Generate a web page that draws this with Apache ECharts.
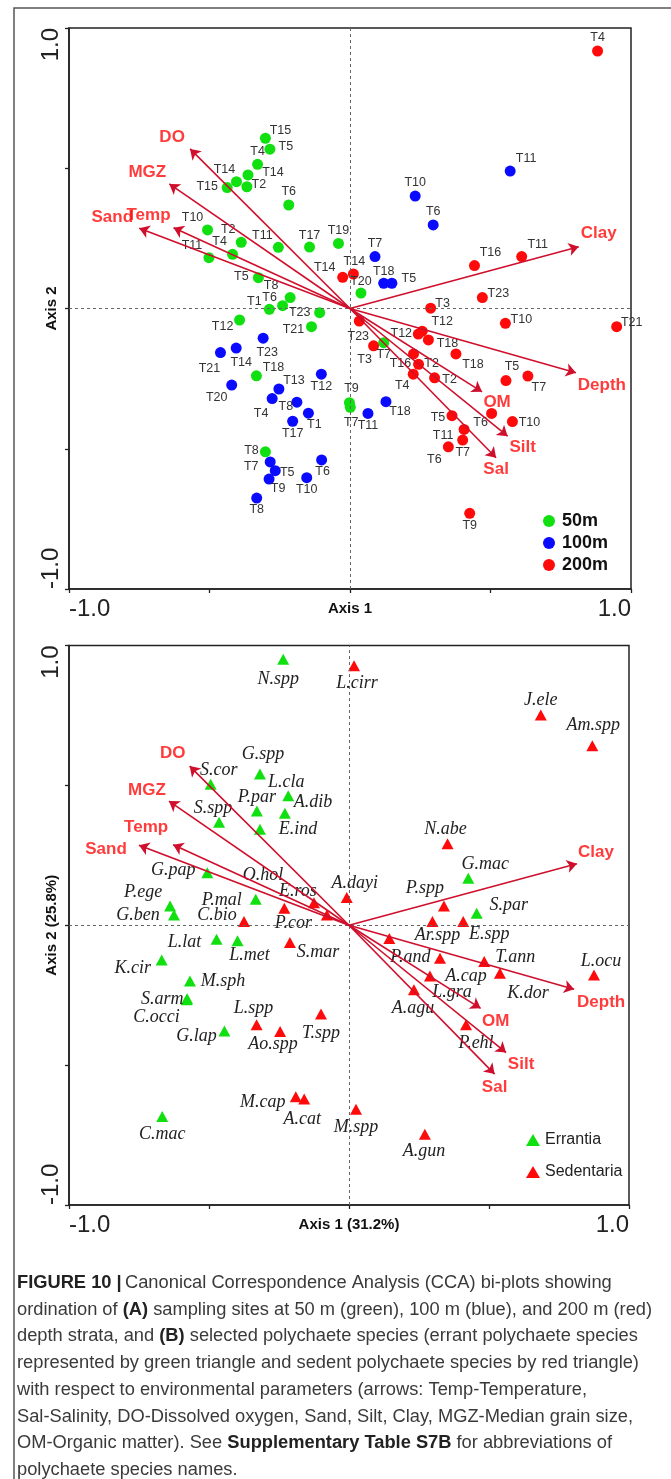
<!DOCTYPE html>
<html><head><meta charset="utf-8">
<script src="https://cdn.jsdelivr.net/npm/echarts@6/dist/echarts.min.js"></script>
<style>html,body{margin:0;padding:0;background:#fff}#c{width:671px;height:1479px}</style>
</head><body><div id="c"></div>
<script>
// ---------- data ----------
const tickLabels = ['-1.0', '1.0'];
const axisNamesA = ['Axis 1', 'Axis 2'];
const axisNamesB = ['Axis 1 (31.2%)', 'Axis 2 (25.8%)'];

const envNames = ['DO', 'MGZ', 'Temp', 'Sand', 'Clay', 'Depth', 'OM', 'Silt', 'Sal'];
const envX = [-0.569, -0.643, -0.628, -0.750, 0.814, 0.804, 0.470, 0.561, 0.520];
const envY = [0.569, 0.444, 0.288, 0.286, 0.220, -0.229, -0.297, -0.455, -0.532];

// (A) sampling sites
const s50Names = ['T15','T5','T4','T14','T14','T15','T2','T6','T10','T2','T4','T11','T11','T17','T19','T5','T8','T6','T1','T23','T21','T12','T20','T7','T18','T9','T7','T8'];
const s50X = [-0.301,-0.285,-0.329,-0.363,-0.404,-0.437,-0.367,-0.218,-0.507,-0.387,-0.418,-0.502,-0.255,-0.144,-0.041,-0.326,-0.213,-0.240,-0.287,-0.108,-0.137,-0.393,0.039,0.120,-0.333,-0.002,0.001,-0.301];
const s50Y = [0.607,0.568,0.514,0.476,0.452,0.431,0.434,0.369,0.280,0.236,0.193,0.181,0.218,0.219,0.232,0.110,0.039,0.010,-0.003,-0.015,-0.065,-0.041,0.055,-0.122,-0.240,-0.336,-0.352,-0.511];

const s100Names = ['T11','T10','T6','T7','T18','T5','T23','T14','T21','T20','T12','T13','T4','T8','T1','T17','T11','T18','T7','T5','T9','T6','T10','T8'];
const s100X = [0.570,0.232,0.296,0.089,0.120,0.149,-0.309,-0.405,-0.461,-0.421,-0.102,-0.253,-0.277,-0.189,-0.148,-0.204,0.064,0.128,-0.284,-0.266,-0.288,-0.101,-0.154,-0.332];
const s100Y = [0.490,0.401,0.298,0.185,0.090,0.090,-0.106,-0.141,-0.157,-0.273,-0.234,-0.287,-0.321,-0.334,-0.373,-0.402,-0.374,-0.332,-0.547,-0.578,-0.608,-0.540,-0.603,-0.676];

const s200Names = ['T4','T16','T11','T23','T3','T14','T14','T10','T21','T23','T3','T12','T12','T18','T18','T16','T2','T4','T2','T5','T7','T6','T10','T5','T11','T7','T6','T9'];
const s200X = [0.881,0.443,0.611,0.471,0.287,-0.026,0.012,0.553,0.949,0.033,0.084,0.243,0.257,0.279,0.377,0.226,0.244,0.225,0.301,0.555,0.633,0.504,0.578,0.363,0.406,0.401,0.350,0.426];
const s200Y = [0.918,0.153,0.185,0.039,0.001,0.111,0.123,-0.053,-0.065,-0.045,-0.133,-0.091,-0.081,-0.112,-0.162,-0.162,-0.199,-0.234,-0.247,-0.257,-0.241,-0.374,-0.403,-0.382,-0.431,-0.469,-0.493,-0.730];

// (B) species
const errNames = ['N.spp','S.cor','G.spp','L.cla','P.par','A.dib','S.spp','E.ind','G.pap','P.ege','G.ben','P.mal','L.lat','L.met','K.cir','M.sph','S.arm','C.occi','G.lap','C.mac','G.mac','S.par'];
const errX = [-0.235,-0.494,-0.318,-0.217,-0.329,-0.229,-0.464,-0.318,-0.506,-0.639,-0.625,-0.333,-0.473,-0.398,-0.669,-0.568,-0.578,-0.580,-0.445,-0.667,0.426,0.456];
const errY = [0.951,0.504,0.541,0.463,0.408,0.400,0.368,0.343,0.188,0.069,0.037,0.093,-0.050,-0.055,-0.124,-0.199,-0.263,-0.266,-0.378,-0.684,0.168,0.043];

const sedNames = ['L.cirr','J.ele','Am.spp','N.abe','A.dayi','P.spp','Ar.spp','E.spp','P.and','A.cap','T.ann','K.dor','L.ocu','L.gra','A.agu','P.ehl','M.spp','A.gun','C.bio','O.hol','E.ros','P.cor','S.mar','L.spp','Ao.spp','T.spp','M.cap','A.cat'];
const sedX = [0.018,0.685,0.869,0.352,-0.008,0.339,0.298,0.408,0.144,0.325,0.483,0.539,0.875,0.289,0.232,0.418,0.025,0.271,-0.375,-0.125,-0.079,-0.231,-0.211,-0.330,-0.246,-0.100,-0.190,-0.160];
const sedY = [0.928,0.752,0.642,0.291,0.099,0.069,0.013,0.013,-0.047,-0.118,-0.130,-0.172,-0.178,-0.181,-0.231,-0.356,-0.658,-0.747,0.013,0.080,0.037,0.061,-0.062,-0.356,-0.380,-0.317,-0.613,-0.621];

// ---------- label placement (style, px offsets from marker centre) ----------
const offEnvA = [[-18,-12],[-22,-12],[-25,-12],[-27,-11],[20,-13],[26,13],[15,11],[15,11],[0,12]];
const offEnvB = [[-17,-13],[-22,-11],[-27,-17],[-33,4],[19,-11],[27,13],[15,13],[15,12],[0,13]];
const off50 = [[15,-8],[16,-3],[0,-13],[25,-2],[-12,-12],[-20,-1],[12,-2],[0,-13],[-15,-12],[-13,-13],[-13,-13],[-17,-12],[-16,-12],[0,-12],[0,-13],[-17,-1],[-19,-12],[-13,-8],[-15,-8],[-20,0],[-18,3],[-17,7],[0,-12],[0,12],[17,-8],[2,-14],[1,15],[-14,-1]];
const off100 = [[16,-13],[0,-13],[0,-13],[0,-13],[0,-12],[17,-5],[4,14],[5,14],[-11,16],[-15,12],[0,12],[15,-8],[-11,15],[-11,4],[6,11],[0,12],[0,12],[14,10],[-19,5],[12,2],[9,10],[1,12],[0,12],[0,11]];
const off200 = [[0,-13],[16,-13],[16,-12],[16,-4],[12,-5],[-18,-10],[1,-12],[16,-4],[15,-4],[-1,15],[-9,14],[-17,0],[20,-10],[19,4],[17,11],[-13,10],[13,-1],[-11,11],[15,2],[6,-14],[11,11],[-11,9],[17,1],[-14,2],[-21,6],[0,12],[-14,13],[0,12]];
const offErr = [[-5,20],[8,-14],[3,-20],[-2,-13],[0,-14],[28,-11],[-6,-14],[38,0],[-34,-2],[-27,-14],[-36,0],[-34,1],[-32,3],[12,15],[-29,8],[33,0],[-25,0],[-30,18],[-28,5],[0,18],[17,-14],[32,-8]];
const offSed = [[3,18],[0,-15],[1,-20],[-2,-15],[8,-14],[-19,-18],[5,14],[26,13],[21,19],[26,18],[31,-4],[28,20],[7,-14],[22,16],[-1,18],[10,18],[0,18],[-1,17],[-27,-6],[-51,-28],[-29,-24],[9,15],[28,10],[-3,-17],[-7,13],[0,19],[-33,6],[-2,20]];

// ---------- build ----------
const mk = (names, xs, ys, offs) => names.map((n, i) => ({ name: n, value: [xs[i], ys[i]], label: { offset: offs[i] } }));
const envSegs = envNames.map((n, i) => ({ coords: [[0, 0], [envX[i], envY[i]]] }));

const SANS = 'Liberation Sans, Arial, sans-serif';
const SERIF = 'Liberation Serif, Times New Roman, serif';
const ARROW = '#cf0f2c';

function axes(idx, names) {
  const common = {
    gridIndex: idx, type: 'value', min: -1, max: 1, interval: 0.5,
    splitLine: { show: false },
    axisLine: { show: true, onZero: false, lineStyle: { color: '#222', width: 1.6 } },
    axisTick: { show: true, length: 4, lineStyle: { color: '#222', width: 1.3 } },
    nameMoveOverlap: false,
    nameTextStyle: { fontFamily: SANS, fontWeight: 'bold', fontSize: 15, color: '#111' }
  };
  const fmt = v => (v === -1 ? tickLabels[0] : (v === 1 ? tickLabels[1] : ''));
  return {
    x: Object.assign({}, common, {
      name: names[0], nameLocation: 'middle', nameGap: 12,
      axisLabel: { formatter: fmt, fontSize: 24, fontFamily: SANS, color: '#222', margin: 8,
        alignMinLabel: 'left', alignMaxLabel: 'right' }
    }),
    y: Object.assign({}, common, {
      name: names[1], nameLocation: 'middle', nameGap: 10,
      axisLabel: { formatter: fmt, fontSize: 24, fontFamily: SANS, color: '#222', margin: 6, rotate: 90,
        alignMinLabel: 'left', alignMaxLabel: 'right' }
    })
  };
}
const aA = axes(0, axisNamesA), aB = axes(1, axisNamesB);

const ptLabel = (size, family, style, color) => ({
  show: true, position: 'inside', formatter: '{b}', fontSize: size, fontFamily: family,
  fontStyle: style, color: color
});
const zeroLines = {
  silent: true, symbol: 'none', label: { show: false },
  lineStyle: { type: [3, 3], color: '#666', width: 1 },
  data: [{ xAxis: 0 }, { yAxis: 0 }]
};

function envSeries(idx, offs) {
  return [
    { type: 'lines', coordinateSystem: 'cartesian2d', xAxisIndex: idx, yAxisIndex: idx, z: 5, silent: true,
      symbol: ['none', 'arrow'], symbolSize: 10,
      lineStyle: { color: ARROW, width: 1.6, opacity: 1 }, data: envSegs },
    { type: 'scatter', xAxisIndex: idx, yAxisIndex: idx, symbolSize: 0, z: 6, silent: true,
      data: mk(envNames, envX, envY, offs),
      label: { show: true, position: 'inside', formatter: '{b}', fontSize: 17, fontWeight: 'bold',
        fontFamily: SANS, color: '#ff0a0a' } }
  ];
}

const option = {
  animation: false,
  backgroundColor: '#fff',
  grid: [
    { left: 69, top: 28, width: 562, height: 561, show: true, borderColor: '#222', borderWidth: 1.5 },
    { left: 69, top: 645.5, width: 560, height: 559.5, show: true, borderColor: '#222', borderWidth: 1.5 }
  ],
  xAxis: [aA.x, aB.x],
  yAxis: [aA.y, aB.y],
  legend: [
    { data: ['50m', '100m', '200m'], orient: 'vertical', left: 538, top: 506, itemWidth: 12, itemHeight: 12,
      itemGap: 2, icon: 'circle', selectedMode: false,
      textStyle: { fontSize: 18, fontWeight: 'bold', color: '#111', fontFamily: SANS, lineHeight: 20, padding: [0, 0, 0, 2] } },
    { data: ['Errantia', 'Sedentaria'], orient: 'vertical', left: 521, top: 1125, itemWidth: 14, itemHeight: 12,
      itemGap: 12, icon: 'triangle', selectedMode: false,
      textStyle: { fontSize: 16, color: '#222', fontFamily: SANS, lineHeight: 20 } }
  ],
  series: [
    { name: '50m', type: 'scatter', xAxisIndex: 0, yAxisIndex: 0, symbol: 'circle', symbolSize: 11, z: 3,
      itemStyle: { color: '#10e010', opacity: 1 }, data: mk(s50Names, s50X, s50Y, off50),
      label: ptLabel(12.5, SANS, 'normal', '#333'), markLine: zeroLines },
    { name: '100m', type: 'scatter', xAxisIndex: 0, yAxisIndex: 0, symbol: 'circle', symbolSize: 11, z: 3,
      itemStyle: { color: '#0a0aff', opacity: 1 }, data: mk(s100Names, s100X, s100Y, off100),
      label: ptLabel(12.5, SANS, 'normal', '#333') },
    { name: '200m', type: 'scatter', xAxisIndex: 0, yAxisIndex: 0, symbol: 'circle', symbolSize: 11, z: 3,
      itemStyle: { color: '#ff0a0a', opacity: 1 }, data: mk(s200Names, s200X, s200Y, off200),
      label: ptLabel(12.5, SANS, 'normal', '#333') },
    ...envSeries(0, offEnvA),
    { name: 'Errantia', type: 'scatter', xAxisIndex: 1, yAxisIndex: 1, symbol: 'triangle', symbolSize: [12, 11], z: 3,
      itemStyle: { color: '#10e010', opacity: 1 }, data: mk(errNames, errX, errY, offErr),
      label: ptLabel(18, SERIF, 'italic', '#222'), markLine: zeroLines },
    { name: 'Sedentaria', type: 'scatter', xAxisIndex: 1, yAxisIndex: 1, symbol: 'triangle', symbolSize: [12, 11], z: 3,
      itemStyle: { color: '#ff0a0a', opacity: 1 }, data: mk(sedNames, sedX, sedY, offSed),
      label: ptLabel(18, SERIF, 'italic', '#222') },
    ...envSeries(1, offEnvB)
  ],
  graphic: [
    { type: 'rect', silent: true, shape: { x: 14, y: 8, width: 720, height: 1520 },
      style: { fill: null, stroke: '#555', lineWidth: 1.5 } },
    { type: 'text', left: 17, top: 1274, silent: true,
      style: {
        text: '{b|FIGURE 10 |} {n|Canonical Correspondence Analysis (CCA) bi-plots showing}\n' +
          '{n|ordination of }{b|(A)}{n| sampling sites at 50 m (green), 100 m (blue), and 200 m (red)}\n' +
          '{n|depth strata, and }{b|(B)}{n| selected polychaete species (errant polychaete species}\n' +
          '{n|represented by green triangle and sedent polychaete species by red triangle)}\n' +
          '{n|with respect to environmental parameters (arrows: Temp-Temperature,}\n' +
          '{n|Sal-Salinity, DO-Dissolved oxygen, Sand, Silt, Clay, MGZ-Median grain size,}\n' +
          '{n|OM-Organic matter). See }{b|Supplementary Table S7B}{n| for abbreviations of}\n' +
          '{n|polychaete species names.}',
        rich: {
          n: { fontSize: 18.3, fontFamily: SANS, fill: '#3a3a3a', lineHeight: 26.7 },
          b: { fontSize: 18.3, fontFamily: SANS, fontWeight: 'bold', fill: '#222', lineHeight: 26.7 }
        }
      } }
  ]
};

const chart = echarts.init(document.getElementById('c'), null, { renderer: 'canvas' });
chart.setOption(option);
</script></body></html>
